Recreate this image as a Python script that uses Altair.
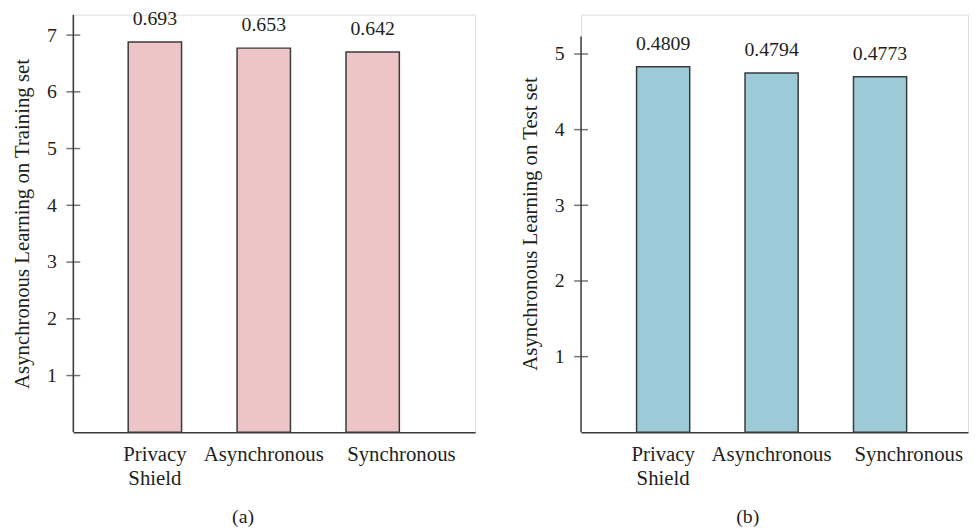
import altair as alt
import pandas as pd

categories = ["Privacy Shield", "Asynchronous", "Synchronous"]
train_heights = [6.88, 6.77, 6.70]
train_labels = ["0.693", "0.653", "0.642"]
test_heights = [4.83, 4.75, 4.70]
test_labels = ["0.4809", "0.4794", "0.4773"]
train_ticks = [1, 2, 3, 4, 5, 6, 7]
test_ticks = [1, 2, 3, 4, 5]

FONT = "Liberation Serif"
TXT = "#231f20"
LINE = "#3a3a3a"
H = 422


def panel(heights, labels, ticks, color, ytitle, caption, width, ymax, axis_top,
          pad_outer, align, cap_x):
    df = pd.DataFrame({"cat": categories, "val": heights, "lab": labels})
    tdf = pd.DataFrame({"t": ticks})
    xenc = alt.X(
        "cat:N", sort=categories,
        scale=alt.Scale(paddingInner=0.51, paddingOuter=pad_outer, align=align),
        axis=alt.Axis(
            title=caption, ticks=False, labelAngle=0, labelPadding=11,
            labelExpr="datum.value == 'Privacy Shield' ? ['Privacy', 'Shield'] : datum.value",
            labelOffset={"condition": {"test": "datum.value === 'Synchronous'", "value": 29},
                         "value": 0},
            labelLineHeight=25, labelFont=FONT, labelFontSize=21, labelColor=TXT,
            titleFont=FONT, titleFontSize=20, titleFontWeight="normal", titleColor=TXT,
            titleX=cap_x, titleY=85, titleBaseline="middle", titleAlign="center",
            domainColor=LINE, domainWidth=1.5, labelBaseline="top",
        ),
    )
    yscale = alt.Scale(domain=[0, ymax], nice=False, zero=True)
    yenc = alt.Y(
        "val:Q", scale=yscale,
        axis=alt.Axis(
            title=ytitle, values=ticks, format="d", ticks=False, domain=False, grid=False,
            labelPadding=17, labelFont=FONT, labelFontSize=20, labelColor=TXT,
            titleFont=FONT, titleFontSize=21, titleFontWeight="normal", titleColor=TXT,
            titlePadding=14,
        ),
    )
    bars = alt.Chart(df).mark_bar(
        color=color, stroke=LINE, strokeWidth=1.5
    ).encode(x=xenc, y=yenc)
    text = alt.Chart(df).mark_text(
        font=FONT, fontSize=20, color=TXT, dy=-23, baseline="middle"
    ).encode(x=alt.X("cat:N", sort=categories), y="val:Q", text="lab:N")
    axis_line = alt.Chart(pd.DataFrame({"a": [0], "b": [axis_top]})).mark_rule(
        color=LINE, strokeWidth=1.5
    ).encode(x=alt.value(0), y=alt.Y("a:Q", scale=yscale), y2="b:Q")
    tickmarks = alt.Chart(tdf).mark_tick(
        orient="horizontal", size=14, thickness=1.5, color=LINE
    ).encode(x=alt.value(0), y=alt.Y("t:Q", scale=yscale))
    return alt.layer(bars, text, axis_line, tickmarks).properties(width=width, height=H)


left = panel(train_heights, train_labels, train_ticks, "#eec5c7",
             "Asynchronous Learning on Training set", "(a)", 406, 7.36, 7.36,
             0.6, 0.42, 171)
right = panel(test_heights, test_labels, test_ticks, "#9dcbd8",
              "Asynchronous Learning on Test set", "(b)", 391, 5.52, 5.23,
              0.539, 0.475, 168)

chart = alt.hconcat(left, right, spacing=43).properties(
    padding={"top": -2, "left": 3, "right": 0, "bottom": 0}
).configure_view(stroke=None).configure(background="white")

chart.save("out.html", embed_options={"renderer": "svg", "actions": False})
